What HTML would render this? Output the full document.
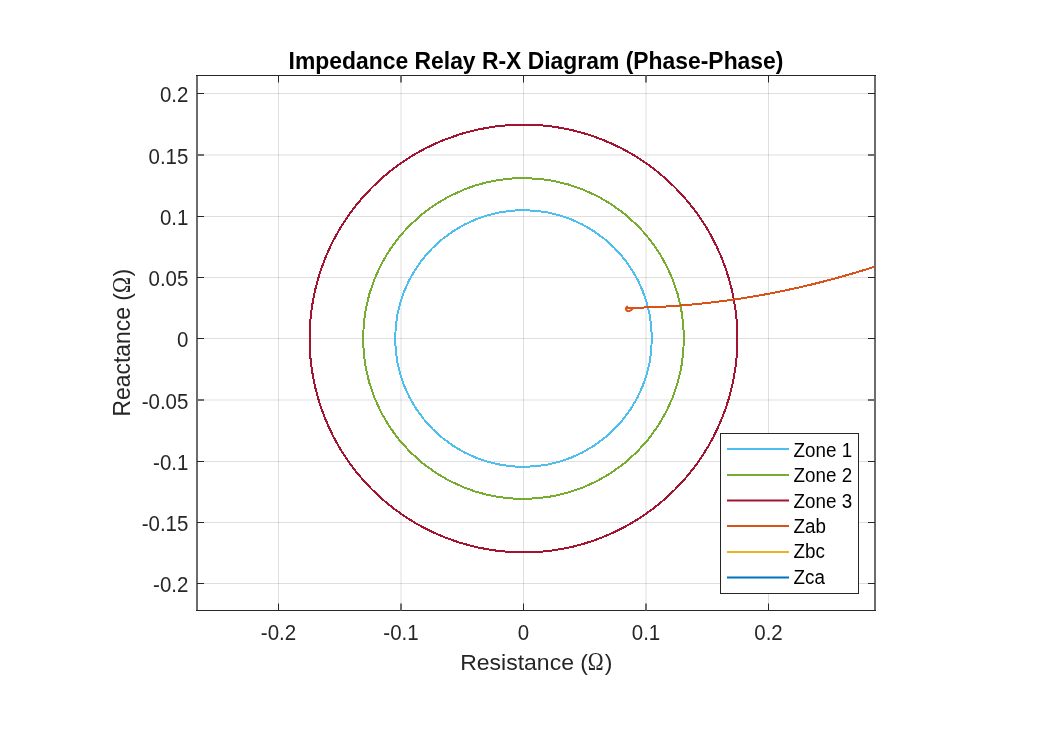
<!DOCTYPE html>
<html><head><meta charset="utf-8"><title>Impedance Relay R-X Diagram</title>
<style>html,body{margin:0;padding:0;background:#fff;}body{width:1043px;height:740px;overflow:hidden;font-family:"Liberation Sans",sans-serif;}svg{display:block;will-change:transform;}text{font-family:"Liberation Sans",sans-serif;fill:#262626;}.lg text{fill:#000;}.sym{font-family:"Liberation Serif",serif;}</style></head><body>
<svg width="1043" height="740" viewBox="0 0 1043 740">
<rect x="0" y="0" width="1043" height="740" fill="#ffffff"/>
<g stroke="#262626" stroke-opacity="0.15" stroke-width="1" fill="none">
<line x1="278.50" y1="75.5" x2="278.50" y2="610.5"/>
<line x1="401.00" y1="75.5" x2="401.00" y2="610.5"/>
<line x1="523.50" y1="75.5" x2="523.50" y2="610.5"/>
<line x1="646.00" y1="75.5" x2="646.00" y2="610.5"/>
<line x1="768.50" y1="75.5" x2="768.50" y2="610.5"/>
<line x1="197.0" y1="583.50" x2="875.0" y2="583.50"/>
<line x1="197.0" y1="522.50" x2="875.0" y2="522.50"/>
<line x1="197.0" y1="461.50" x2="875.0" y2="461.50"/>
<line x1="197.0" y1="400.00" x2="875.0" y2="400.00"/>
<line x1="197.0" y1="338.50" x2="875.0" y2="338.50"/>
<line x1="197.0" y1="277.50" x2="875.0" y2="277.50"/>
<line x1="197.0" y1="216.50" x2="875.0" y2="216.50"/>
<line x1="197.0" y1="155.00" x2="875.0" y2="155.00"/>
<line x1="197.0" y1="93.50" x2="875.0" y2="93.50"/>
</g>
<defs><clipPath id="c"><rect x="197.0" y="75.5" width="678.0" height="535.0"/></clipPath></defs>
<g clip-path="url(#c)" fill="none" stroke-width="2" shape-rendering="crispEdges">
<circle cx="523.5" cy="338.5" r="128.3" stroke="#4DBEEE"/>
<circle cx="523.5" cy="338.5" r="160.4" stroke="#77AC30"/>
<circle cx="523.5" cy="338.5" r="213.9" stroke="#A2142F"/>
<polyline stroke="#D95319" stroke-width="2" stroke-linejoin="round" points="626.0,307.90 630.0,307.85 634.0,307.78 638.0,307.69 642.0,307.58 646.0,307.45 650.0,307.30 654.0,307.13 658.0,306.94 662.0,306.73 666.0,306.50 670.0,306.25 674.0,305.98 678.0,305.69 682.0,305.38 686.0,305.05 690.0,304.70 694.0,304.33 698.0,303.94 702.0,303.53 706.0,303.10 710.0,302.64 714.0,302.17 718.0,301.68 722.0,301.17 726.0,300.64 730.0,300.09 734.0,299.52 738.0,298.93 742.0,298.31 746.0,297.68 750.0,297.03 754.0,296.36 758.0,295.67 762.0,294.96 766.0,294.22 770.0,293.47 774.0,292.70 778.0,291.91 782.0,291.10 786.0,290.26 790.0,289.41 794.0,288.54 798.0,287.65 802.0,286.74 806.0,285.80 810.0,284.85 814.0,283.88 818.0,282.89 822.0,281.87 826.0,280.84 830.0,279.79 834.0,278.71 838.0,277.62 842.0,276.51 846.0,275.38 850.0,274.22 854.0,273.05 858.0,271.86 862.0,270.64 866.0,269.41 870.0,268.16 874.0,266.88"/>
<path shape-rendering="auto" stroke="#D95319" stroke-width="2" stroke-linecap="round" stroke-linejoin="round" d="M627.1 306.6 L625.9 308.3 Q626 311.2 628.8 311.2 Q630.8 311 632.6 308.6"/>
</g>
<g stroke="#262626" stroke-width="1" fill="none">
<line x1="197.00" y1="75.50" x2="197.00" y2="610.50" stroke="#6c6c6c" stroke-width="2"/>
<line x1="875.00" y1="75.50" x2="875.00" y2="610.50" stroke="#6c6c6c" stroke-width="2"/>
<line x1="196.00" y1="75.50" x2="876.00" y2="75.50"/>
<line x1="196.00" y1="610.50" x2="876.00" y2="610.50"/>
<line x1="278.50" y1="610.50" x2="278.50" y2="603.50"/>
<line x1="278.50" y1="75.50" x2="278.50" y2="82.50"/>
<line x1="401.00" y1="610.50" x2="401.00" y2="603.50" stroke="#6c6c6c" stroke-width="2"/>
<line x1="401.00" y1="75.50" x2="401.00" y2="82.50" stroke="#6c6c6c" stroke-width="2"/>
<line x1="523.50" y1="610.50" x2="523.50" y2="603.50"/>
<line x1="523.50" y1="75.50" x2="523.50" y2="82.50"/>
<line x1="646.00" y1="610.50" x2="646.00" y2="603.50" stroke="#6c6c6c" stroke-width="2"/>
<line x1="646.00" y1="75.50" x2="646.00" y2="82.50" stroke="#6c6c6c" stroke-width="2"/>
<line x1="768.50" y1="610.50" x2="768.50" y2="603.50"/>
<line x1="768.50" y1="75.50" x2="768.50" y2="82.50"/>
<line x1="197.00" y1="583.50" x2="204.00" y2="583.50"/>
<line x1="875.00" y1="583.50" x2="868.00" y2="583.50"/>
<line x1="197.00" y1="522.50" x2="204.00" y2="522.50"/>
<line x1="875.00" y1="522.50" x2="868.00" y2="522.50"/>
<line x1="197.00" y1="461.50" x2="204.00" y2="461.50"/>
<line x1="875.00" y1="461.50" x2="868.00" y2="461.50"/>
<line x1="197.00" y1="400.00" x2="204.00" y2="400.00" stroke="#6c6c6c" stroke-width="2"/>
<line x1="875.00" y1="400.00" x2="868.00" y2="400.00" stroke="#6c6c6c" stroke-width="2"/>
<line x1="197.00" y1="338.50" x2="204.00" y2="338.50"/>
<line x1="875.00" y1="338.50" x2="868.00" y2="338.50"/>
<line x1="197.00" y1="277.50" x2="204.00" y2="277.50"/>
<line x1="875.00" y1="277.50" x2="868.00" y2="277.50"/>
<line x1="197.00" y1="216.50" x2="204.00" y2="216.50"/>
<line x1="875.00" y1="216.50" x2="868.00" y2="216.50"/>
<line x1="197.00" y1="155.00" x2="204.00" y2="155.00" stroke="#6c6c6c" stroke-width="2"/>
<line x1="875.00" y1="155.00" x2="868.00" y2="155.00" stroke="#6c6c6c" stroke-width="2"/>
<line x1="197.00" y1="93.50" x2="204.00" y2="93.50"/>
<line x1="875.00" y1="93.50" x2="868.00" y2="93.50"/>
</g>
<g>
<text transform="translate(278.50,640.00) scale(1,1.06)" font-size="20.5" text-anchor="middle" >-0.2</text>
<text transform="translate(401.00,640.00) scale(1,1.06)" font-size="20.5" text-anchor="middle" >-0.1</text>
<text transform="translate(523.50,640.00) scale(1,1.06)" font-size="20.5" text-anchor="middle" >0</text>
<text transform="translate(646.00,640.00) scale(1,1.06)" font-size="20.5" text-anchor="middle" >0.1</text>
<text transform="translate(768.50,640.00) scale(1,1.06)" font-size="20.5" text-anchor="middle" >0.2</text>
<text transform="translate(188.40,592.40) scale(1,1.06)" font-size="20.5" text-anchor="end" >-0.2</text>
<text transform="translate(188.40,531.40) scale(1,1.06)" font-size="20.5" text-anchor="end" >-0.15</text>
<text transform="translate(188.40,470.40) scale(1,1.06)" font-size="20.5" text-anchor="end" >-0.1</text>
<text transform="translate(188.40,408.90) scale(1,1.06)" font-size="20.5" text-anchor="end" >-0.05</text>
<text transform="translate(188.40,347.40) scale(1,1.06)" font-size="20.5" text-anchor="end" >0</text>
<text transform="translate(188.40,286.40) scale(1,1.06)" font-size="20.5" text-anchor="end" >0.05</text>
<text transform="translate(188.40,225.40) scale(1,1.06)" font-size="20.5" text-anchor="end" >0.1</text>
<text transform="translate(188.40,163.90) scale(1,1.06)" font-size="20.5" text-anchor="end" >0.15</text>
<text transform="translate(188.40,102.40) scale(1,1.06)" font-size="20.5" text-anchor="end" >0.2</text>
</g>
<text transform="translate(536.00,69.30) scale(1,1.05)" font-size="22.9" text-anchor="middle" font-weight="bold" style="fill:#000">Impedance Relay R-X Diagram (Phase-Phase)</text>
<g transform="translate(536.5,669.5)"><text transform="translate(-76.29,0) scale(1,0.99)" font-size="23">Resistance (</text><text class="sym" transform="translate(51.23,0) scale(0.93,1.05)" font-size="23">Ω</text><text transform="translate(68.13,0) scale(1,0.99)" font-size="23">)</text></g>
<g transform="translate(130.2,342.5) rotate(-90)"><text transform="translate(-74.04,0) scale(1,1.05)" font-size="22.9">Reactance (</text><text class="sym" transform="translate(49.49,0) scale(0.94,1.1)" font-size="22.9">Ω</text><text transform="translate(65.90,0) scale(1,1.05)" font-size="22.9">)</text></g>
<g class="lg">
<rect x="720.5" y="433.5" width="138" height="160" fill="#fff" stroke="#262626" stroke-width="1"/>
<line x1="727" y1="449" x2="789" y2="449" stroke="#4DBEEE" stroke-width="2"/>
<text transform="translate(793.60,456.80) scale(1,1.06)" font-size="18.8" text-anchor="start" >Zone 1</text>
<line x1="727" y1="475" x2="789" y2="475" stroke="#77AC30" stroke-width="2"/>
<text transform="translate(793.60,482.20) scale(1,1.06)" font-size="18.8" text-anchor="start" >Zone 2</text>
<line x1="727" y1="500.5" x2="789" y2="500.5" stroke="#A2142F" stroke-width="2"/>
<text transform="translate(793.60,507.60) scale(1,1.06)" font-size="18.8" text-anchor="start" >Zone 3</text>
<line x1="727" y1="526" x2="789" y2="526" stroke="#D95319" stroke-width="2"/>
<text transform="translate(793.60,533.00) scale(1,1.06)" font-size="18.8" text-anchor="start" >Zab</text>
<line x1="727" y1="552" x2="789" y2="552" stroke="#EDB120" stroke-width="2"/>
<text transform="translate(793.60,558.40) scale(1,1.06)" font-size="18.8" text-anchor="start" >Zbc</text>
<line x1="727" y1="577.5" x2="789" y2="577.5" stroke="#0072BD" stroke-width="2"/>
<text transform="translate(793.60,583.80) scale(1,1.06)" font-size="18.8" text-anchor="start" >Zca</text>
</g>
</svg></body></html>
